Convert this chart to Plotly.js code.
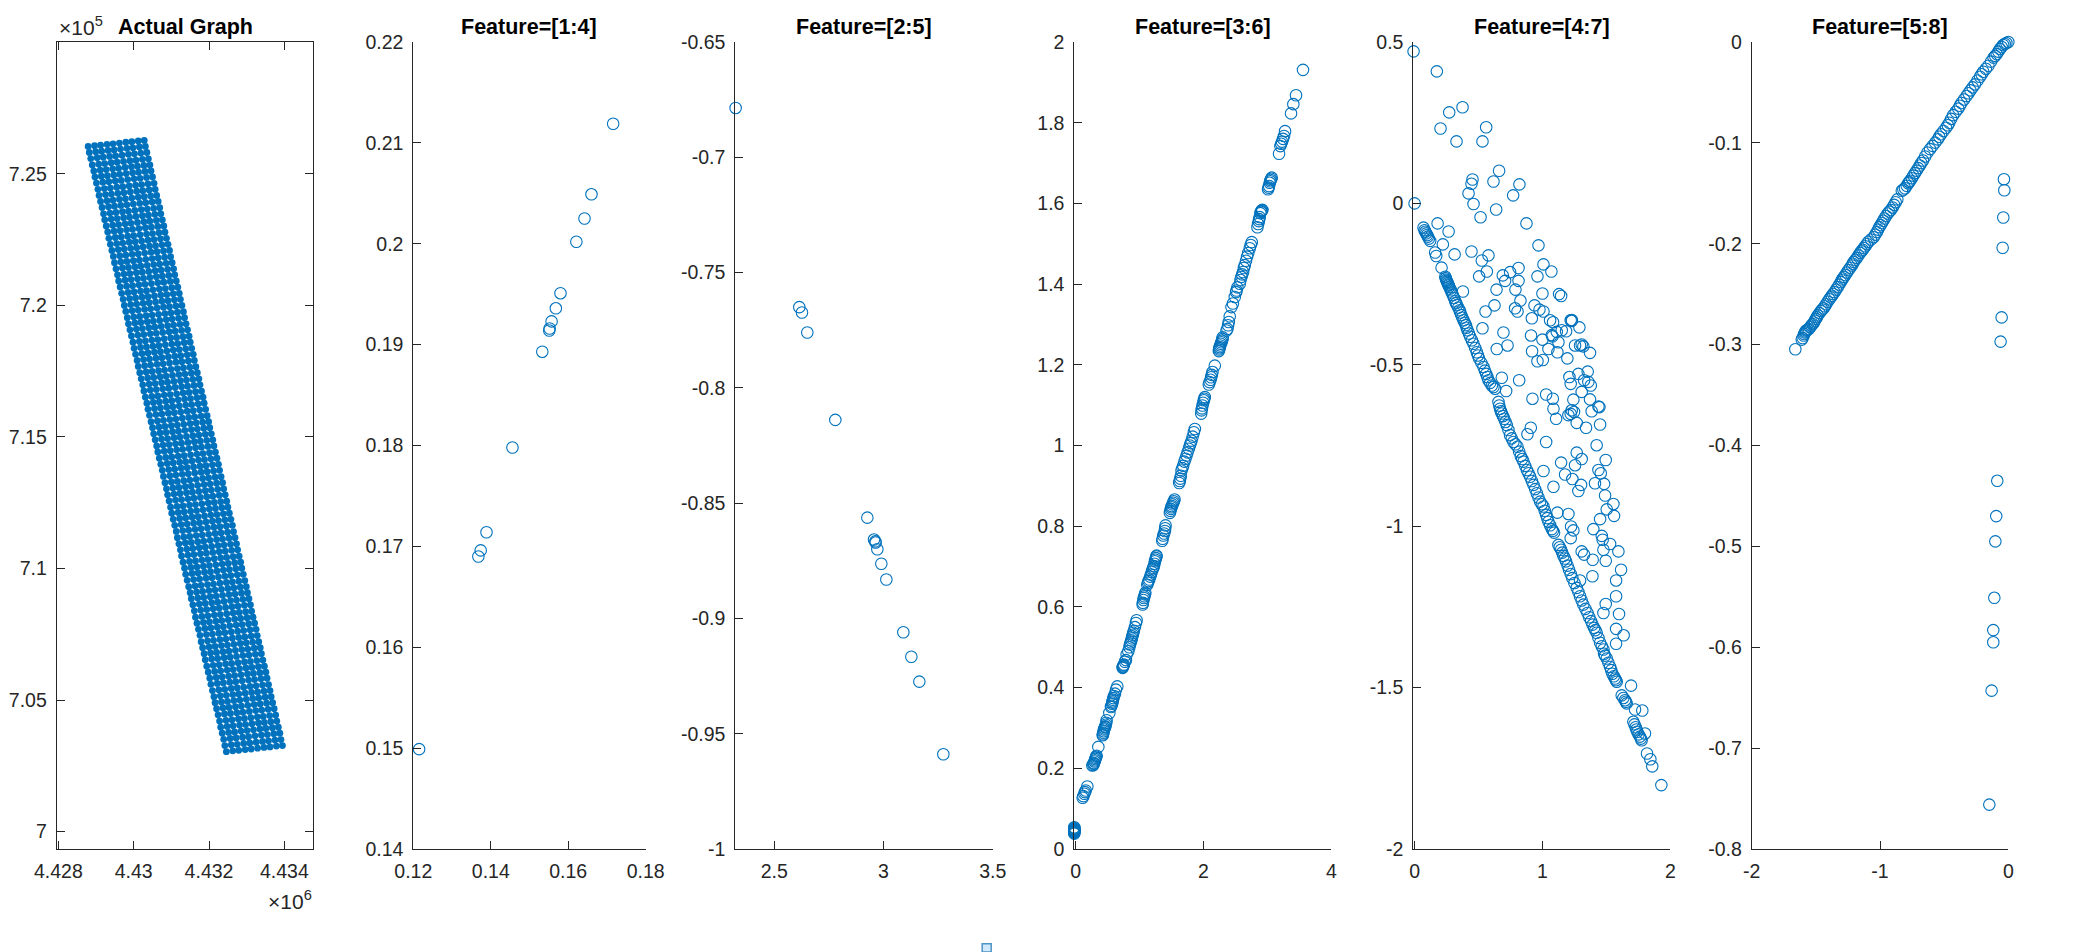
<!DOCTYPE html>
<html>
<head>
<meta charset="utf-8">
<script src="https://cdn.plot.ly/plotly-3.0.1.min.js"></script>
<style>body { margin: 0; background: #fff; }</style>
</head>
<body>
<div id="chart" style="width:2094px;height:952px"></div>
<script>
// Actual Graph: regular lattice, read as one row position per row (km) plus one offset per column
const rowX = [4428.79,4428.82,4428.86,4428.90,4428.94,4428.97,4429.01,4429.05,4429.08,4429.12,
  4429.16,4429.20,4429.23,4429.27,4429.31,4429.34,4429.38,4429.42,4429.46,4429.49,
  4429.53,4429.57,4429.60,4429.64,4429.68,4429.72,4429.75,4429.79,4429.83,4429.86,
  4429.90,4429.94,4429.98,4430.01,4430.05,4430.09,4430.12,4430.16,4430.20,4430.24,
  4430.27,4430.31,4430.35,4430.38,4430.42,4430.46,4430.50,4430.53,4430.57,4430.61,
  4430.64,4430.68,4430.72,4430.76,4430.79,4430.83,4430.87,4430.90,4430.94,4430.98,
  4431.01,4431.05,4431.09,4431.13,4431.16,4431.20,4431.24,4431.27,4431.31,4431.35,
  4431.38,4431.42,4431.46,4431.50,4431.53,4431.57,4431.61,4431.64,4431.68,4431.72,
  4431.76,4431.79,4431.83,4431.87,4431.90,4431.94,4431.98,4432.02,4432.05,4432.09,
  4432.13,4432.16,4432.20,4432.24,4432.28,4432.31,4432.35,4432.39,4432.42,4432.46];
const rowY = [726.04,725.81,725.58,725.34,725.11,724.88,724.65,724.41,724.18,723.95,
  723.72,723.48,723.25,723.02,722.79,722.55,722.32,722.09,721.86,721.62,
  721.39,721.16,720.93,720.70,720.46,720.23,720.00,719.77,719.53,719.30,
  719.07,718.84,718.60,718.37,718.14,717.91,717.68,717.44,717.21,716.98,
  716.75,716.51,716.28,716.05,715.82,715.58,715.35,715.12,714.89,714.66,
  714.43,714.19,713.96,713.73,713.50,713.26,713.03,712.80,712.57,712.33,
  712.10,711.87,711.64,711.41,711.17,710.94,710.71,710.48,710.24,710.01,
  709.78,709.55,709.31,709.08,708.85,708.62,708.39,708.15,707.92,707.69,
  707.46,707.22,706.99,706.76,706.53,706.29,706.06,705.83,705.60,705.36,
  705.13,704.90,704.67,704.44,704.20,703.97,703.74,703.51,703.27,703.04];
const colDx = [0,0.17,0.33,0.50,0.66,0.83,1.00,1.16,1.33,1.49];
const colDy = [0,0.03,0.05,0.08,0.10,0.13,0.16,0.18,0.21,0.23];

const f14x = [0.1215,0.1368,0.1374,0.1389,0.1456,0.1533,0.1551,0.1552,0.1557,0.1568,0.1580,0.1621,0.1642,0.1660,0.1716];
const f14y = [0.1499,0.1690,0.1696,0.1714,0.1798,0.1893,0.1914,0.1916,0.1923,0.1936,0.1951,0.2002,0.2025,0.2049,0.2119];

const f25x = [2.3229,2.6145,2.6267,2.6511,2.7794,2.926,2.9565,2.9626,2.9641,2.9718,2.990,3.013,3.0908,3.1275,3.1641,3.274];
const f25y = [-0.6786,-0.7650,-0.7673,-0.7760,-0.8139,-0.8563,-0.8658,-0.8666,-0.8671,-0.8700,-0.8763,-0.8831,-0.9060,-0.9166,-0.9274,-0.9589];

const f36x = [-0.022,-0.022,-0.022,-0.022,-0.022,-0.022,-0.022,-0.022,-0.022,-0.022,-0.022,-0.022,
  0.109,0.12,0.135,0.145,0.156,0.182,
  0.26,0.276,0.282,0.286,0.295,0.302,0.308,0.313,0.32,0.328,0.354,
  0.422,0.427,0.432,0.438,0.443,0.45,0.458,0.464,0.47,0.478,0.484,0.526,
  0.552,0.558,0.568,0.572,0.578,0.584,0.589,0.6,0.615,0.63,0.651,
  0.734,0.738,0.742,0.748,0.755,0.77,0.786,0.797,0.823,0.84,0.849,0.86,0.87,0.878,0.885,0.893,0.901,0.91,0.927,0.943,0.953,
  1.047,1.052,1.06,1.068,1.074,1.083,1.09,1.12,1.13,1.14,1.151,1.165,1.177,1.19,1.203,1.213,1.224,1.232,1.24,1.248,1.255,1.262,1.266,
  1.354,1.36,1.37,1.383,1.396,1.4,1.406,
  1.474,1.482,1.49,1.498,1.505,1.515,1.526,1.535,1.547,
  1.62,1.628,1.636,1.645,1.656,1.67,1.682,1.7,1.717,1.734,1.75,1.77,1.786,1.8,1.813,1.83,1.849,1.865,
  1.964,1.969,1.975,1.984,1.995,2.005,2.012,2.021,
  2.083,2.095,2.11,2.12,2.13,2.141,2.177,
  2.24,2.245,2.25,2.255,2.262,2.27,2.281,2.29,2.297,2.3,
  2.36,2.375,2.385,2.396,2.41,2.438,2.46,2.49,2.51,2.516,2.53,
  2.568,2.58,2.594,2.605,2.62,2.632,2.646,2.665,2.682,2.7,2.724,2.74,2.755,
  2.844,2.855,2.865,2.872,2.88,2.89,2.9,2.906,2.915,2.922,
  3.01,3.018,3.026,3.036,3.045,3.052,3.06,3.068,
  3.182,3.203,3.215,3.229,3.245,3.26,3.276,3.37,3.406,3.448,3.557];
const f36y = [0.038,0.040,0.042,0.043,0.044,0.045,0.046,0.047,0.048,0.050,0.052,0.054,
  0.127,0.131,0.137,0.141,0.145,0.155,
  0.207,0.208,0.211,0.213,0.217,0.22,0.223,0.226,0.229,0.231,0.253,
  0.282,0.284,0.288,0.292,0.296,0.299,0.302,0.304,0.308,0.313,0.319,0.337,
  0.352,0.355,0.36,0.363,0.366,0.37,0.374,0.379,0.385,0.395,0.403,
  0.449,0.451,0.453,0.455,0.457,0.464,0.468,0.482,0.49,0.50,0.507,0.512,0.517,0.522,0.527,0.531,0.536,0.541,0.55,0.56,0.567,
  0.606,0.61,0.617,0.622,0.626,0.631,0.635,0.655,0.66,0.664,0.668,0.675,0.68,0.687,0.693,0.697,0.701,0.707,0.713,0.717,0.721,0.725,0.727,
  0.764,0.769,0.777,0.782,0.788,0.795,0.802,
  0.833,0.838,0.843,0.847,0.85,0.854,0.858,0.862,0.866,
  0.907,0.912,0.918,0.925,0.938,0.944,0.95,0.96,0.967,0.975,0.983,0.992,1.0,1.006,1.012,1.022,1.033,1.041,
  1.079,1.087,1.092,1.099,1.106,1.112,1.116,1.12,
  1.151,1.157,1.163,1.169,1.175,1.182,1.198,
  1.234,1.238,1.241,1.244,1.248,1.252,1.256,1.26,1.264,1.268,
  1.285,1.289,1.298,1.306,1.32,1.343,1.352,1.368,1.38,1.384,1.392,
  1.401,1.41,1.418,1.424,1.43,1.44,1.447,1.458,1.468,1.477,1.489,1.497,1.504,
  1.541,1.549,1.556,1.561,1.566,1.576,1.579,1.581,1.583,1.584,
  1.635,1.639,1.643,1.651,1.655,1.658,1.661,1.664,
  1.723,1.742,1.748,1.753,1.76,1.767,1.779,1.823,1.846,1.868,1.931];

// 4:7 scattered points above the edge
const f47x = [-0.008,0,0.174,0.271,0.375,0.203,0.56,0.328,0.531,0.661,0.453,0.445,0.617,0.82,0.422,0.771,0.461,0.638,0.516,0.875,0.18,0.266,
  0.969,0.221,0.445,0.578,0.313,0.169,0.526,1.008,0.813,1.07,0.565,0.747,0.69,0.505,0.961,0.708,0.813,0.211,0.641,0.789,0.378,1.0,1.13,1.146,
  0.828,0.625,0.938,0.555,0.786,0.805,0.977,1.008,0.917,1.06,1.083,1.221,1.23,1.229,1.289,0.531,0.695,1.073,1.112,1.151,1.185,0.911,
  1.0,1.078,1.125,0.643,0.727,1.047,0.919,1.117,1.255,1.307,1.32,1.294,1.372,0.961,1.003,1.195,
  1.211,1.354,1.281,1.221,1.326,1.359,1.378,0.682,0.818,1.307,0.716,1.029,1.081,0.922,1.242,1.372,1.438,1.446,1.086,1.229,1.247,1.385,1.203,1.221,
  1.107,1.268,1.451,1.341,0.909,0.883,1.029,1.424,1.268,1.307,1.495,1.146,1.255,1.438,1.008,1.456,1.177,1.234,1.411,1.482,1.302,1.086,1.281,
  1.49,1.555,1.503,1.56,1.203,1.117,1.451,1.398,1.224,1.242,1.221,1.464,1.471,1.529,1.477,1.594,1.307,1.326,1.495,1.393,1.615,1.391,1.576,1.294,
  1.576,1.495,1.477,1.599,1.576,1.635,1.576,1.693,1.724,1.781,1.802,1.818,1.844,1.859,1.93];
const f47y = [0.471,0,0.409,0.282,0.298,0.232,0.236,0.192,0.192,0.101,0.074,0.061,0.068,0.059,0.031,0.025,-0.002,-0.019,-0.043,-0.062,-0.062,-0.087,
  -0.13,-0.127,-0.149,-0.161,-0.158,-0.163,-0.177,-0.189,-0.2,-0.211,-0.211,-0.213,-0.223,-0.226,-0.226,-0.24,-0.24,-0.199,-0.267,-0.267,-0.273,-0.279,-0.281,-0.287,
  -0.301,-0.316,-0.316,-0.335,-0.325,-0.335,-0.329,-0.335,-0.356,-0.362,-0.368,-0.362,-0.364,-0.361,-0.384,-0.387,-0.4,-0.408,-0.398,-0.393,-0.396,-0.409,
  -0.422,-0.412,-0.43,-0.451,-0.44,-0.451,-0.458,-0.461,-0.44,-0.437,-0.443,-0.44,-0.463,-0.489,-0.485,-0.48,
  -0.538,-0.521,-0.528,-0.559,-0.548,-0.553,-0.564,-0.54,-0.548,-0.584,-0.581,-0.592,-0.605,-0.605,-0.608,-0.607,-0.629,-0.631,-0.636,-0.641,-0.646,-0.644,-0.656,-0.652,
  -0.667,-0.68,-0.685,-0.695,-0.695,-0.715,-0.739,-0.749,-0.772,-0.792,-0.795,-0.803,-0.811,-0.826,-0.829,-0.836,-0.84,-0.854,-0.867,-0.869,-0.872,-0.878,-0.891,
  -0.905,-0.931,-0.948,-0.968,-0.962,-0.958,-0.978,-1.009,-1.001,-1.013,-1.037,-1.03,-1.042,-1.055,-1.073,-1.078,-1.078,-1.088,-1.107,-1.104,-1.135,-1.155,-1.168,-1.168,
  -1.217,-1.241,-1.269,-1.272,-1.318,-1.338,-1.364,-1.494,-1.568,-1.571,-1.642,-1.704,-1.722,-1.744,-1.802];
// 4:7 points along the lower edge
const f47edgeX = [0.07,0.078,0.084,0.091,0.098,0.104,0.112,0.122,0.161,0.24,0.244,0.247,0.251,0.255,0.259,0.263,0.267,0.271,0.278,0.284,0.291,0.299,0.308,0.318,0.325,0.331,0.342,0.352,0.358,0.365,0.374,0.383,0.392,0.401,0.407,0.414,0.425,0.435,0.448,
  0.461,0.474,0.487,0.496,0.505,0.522,0.539,0.55,0.56,0.569,0.578,0.591,0.604,0.617,0.63,0.656,0.662,0.669,0.675,0.682,0.692,0.701,0.711,0.721,0.734,0.747,0.76,0.773,0.789,0.805,0.818,0.831,0.842,0.852,0.865,0.878,0.891,0.904,0.917,0.93,0.943,0.956,0.969,0.982,0.995,1.008,1.018,1.029,1.038,1.047,1.06,1.073,1.082,1.091,
  1.125,1.135,1.146,1.155,1.164,1.175,1.185,1.197,1.208,1.221,1.234,1.25,1.268,1.281,1.294,1.307,1.32,1.336,1.352,1.366,1.38,1.392,1.404,1.414,1.424,1.438,1.451,1.464,1.477,1.482,1.49,1.503,1.516,1.529,1.538,1.547,1.558,1.568,1.575,1.581,1.62,1.633,1.646,1.653,1.659,1.711,1.72,1.729,1.735,1.742,1.752,1.763,1.77,1.776];
const f47edgeY = [-0.075,-0.083,-0.088,-0.093,-0.098,-0.103,-0.109,-0.116,-0.152,-0.227,-0.232,-0.236,-0.24,-0.243,-0.247,-0.251,-0.254,-0.258,-0.264,-0.269,-0.276,-0.284,-0.293,-0.303,-0.309,-0.315,-0.323,-0.331,-0.338,-0.346,-0.354,-0.362,-0.37,-0.377,-0.385,-0.393,-0.403,-0.413,-0.424,
  -0.435,-0.448,-0.461,-0.471,-0.481,-0.494,-0.507,-0.518,-0.528,-0.538,-0.548,-0.556,-0.564,-0.569,-0.574,-0.615,-0.626,-0.636,-0.644,-0.651,-0.659,-0.667,-0.677,-0.687,-0.702,-0.718,-0.728,-0.739,-0.746,-0.754,-0.769,-0.783,-0.792,-0.8,-0.813,-0.826,-0.836,-0.847,-0.86,-0.872,-0.885,-0.898,-0.911,-0.924,-0.932,-0.939,-0.952,-0.965,-0.975,-0.986,-0.997,-1.009,-1.014,-1.02,
  -1.058,-1.065,-1.073,-1.082,-1.092,-1.1,-1.109,-1.122,-1.135,-1.148,-1.161,-1.176,-1.191,-1.204,-1.217,-1.23,-1.243,-1.256,-1.269,-1.282,-1.294,-1.305,-1.315,-1.322,-1.33,-1.346,-1.361,-1.372,-1.382,-1.395,-1.401,-1.41,-1.423,-1.436,-1.446,-1.457,-1.465,-1.472,-1.477,-1.482,-1.524,-1.532,-1.539,-1.544,-1.549,-1.606,-1.614,-1.623,-1.63,-1.637,-1.645,-1.652,-1.658,-1.663];

const f58x = [-1.66,-1.61,-1.603,-1.595,-1.59,-1.585,-1.58,-1.575,-1.565,-1.555,-1.545,-1.535,-1.525,-1.515,-1.508,-1.5,-1.492,-1.485,-1.472,-1.46,-1.45,-1.44,-1.43,-1.42,-1.408,-1.395,-1.385,-1.375,-1.365,-1.355,-1.342,-1.33,-1.318,-1.305,-1.298,-1.29,-1.28,-1.27,-1.258,-1.245,-1.232,-1.22,-1.212,-1.205,-1.192,-1.18,-1.168,-1.155,-1.145,-1.135,-1.125,-1.115,-1.102,-1.09,-1.07,-1.05,-1.037,-1.025,-1.015,-1.005,-0.995,-0.985,-0.975,-0.965,-0.952,-0.94,-0.928,-0.915,-0.902,-0.89,-0.878,-0.865,-0.83,-0.818,-0.805,-0.792,-0.78,-0.772,-0.765,-0.752,-0.74,-0.728,-0.715,-0.702,-0.69,-0.678,-0.665,-0.648,-0.63,-0.61,-0.59,-0.57,-0.55,-0.538,-0.525,-0.505,-0.485,-0.472,-0.46,-0.445,-0.43,-0.41,-0.39,-0.378,-0.365,-0.345,-0.325,-0.31,-0.295,-0.278,-0.26,-0.24,-0.22,-0.208,-0.195,-0.175,-0.155,-0.135,-0.115,-0.102,-0.09,-0.078,-0.065,-0.052,-0.04,-0.028,-0.015,0,
  -0.034,-0.031,-0.039,-0.044,-0.052,-0.06,-0.086,-0.094,-0.101,-0.109,-0.117,-0.117,-0.13,-0.148];
const f58y = [-0.3046,-0.295,-0.2935,-0.291,-0.2895,-0.288,-0.287,-0.286,-0.2852,-0.2845,-0.2828,-0.281,-0.2795,-0.278,-0.2762,-0.2745,-0.2728,-0.271,-0.2688,-0.2665,-0.2652,-0.264,-0.262,-0.26,-0.2575,-0.255,-0.2532,-0.2515,-0.2498,-0.248,-0.2455,-0.243,-0.2405,-0.238,-0.2362,-0.2345,-0.2328,-0.231,-0.2285,-0.226,-0.2238,-0.2215,-0.2198,-0.218,-0.216,-0.214,-0.2115,-0.209,-0.2075,-0.206,-0.2042,-0.2025,-0.2002,-0.198,-0.1958,-0.1935,-0.191,-0.1885,-0.186,-0.1835,-0.1815,-0.1795,-0.1772,-0.175,-0.1725,-0.17,-0.1682,-0.1665,-0.164,-0.1615,-0.1588,-0.156,-0.1475,-0.1462,-0.145,-0.1425,-0.14,-0.1388,-0.1375,-0.135,-0.1325,-0.13,-0.1275,-0.125,-0.1225,-0.12,-0.1175,-0.1135,-0.1095,-0.1062,-0.103,-0.0998,-0.0965,-0.094,-0.0915,-0.0882,-0.085,-0.0825,-0.08,-0.0762,-0.0725,-0.0692,-0.066,-0.0632,-0.0605,-0.057,-0.0535,-0.0508,-0.048,-0.045,-0.042,-0.0382,-0.0345,-0.032,-0.0295,-0.0265,-0.0235,-0.0195,-0.0155,-0.0138,-0.012,-0.0095,-0.007,-0.005,-0.003,-0.002,-0.001,0,
  -0.136,-0.147,-0.174,-0.204,-0.273,-0.297,-0.435,-0.47,-0.495,-0.551,-0.583,-0.595,-0.643,-0.756];

const titles = ['Actual Graph','Feature=[1:4]','Feature=[2:5]','Feature=[3:6]','Feature=[4:7]','Feature=[5:8]'];
const titleCentres = [185,529,864.3,1203,1542,1880];
const xTickVals = [[4428,4430,4432,4434],[0.12,0.14,0.16,0.18],[2.5,3,3.5],[0,2,4],[0,1,2],[-2,-1,0]];
const xTickText = [['4.428','4.43','4.432','4.434'],['0.12','0.14','0.16','0.18'],['2.5','3','3.5'],['0','2','4'],['0','1','2'],['-2','-1','0']];
const yTickVals = [[700,705,710,715,720,725],[0.14,0.15,0.16,0.17,0.18,0.19,0.2,0.21,0.22],
  [-1,-0.95,-0.9,-0.85,-0.8,-0.75,-0.7,-0.65],[0,0.2,0.4,0.6,0.8,1,1.2,1.4,1.6,1.8,2],
  [-2,-1.5,-1,-0.5,0,0.5],[-0.8,-0.7,-0.6,-0.5,-0.4,-0.3,-0.2,-0.1,0]];
const yTickText = [['7','7.05','7.1','7.15','7.2','7.25'],['0.14','0.15','0.16','0.17','0.18','0.19','0.2','0.21','0.22'],
  ['-1','-0.95','-0.9','-0.85','-0.8','-0.75','-0.7','-0.65'],['0','0.2','0.4','0.6','0.8','1','1.2','1.4','1.6','1.8','2'],
  ['-2','-1.5','-1','-0.5','0','0.5'],['-0.8','-0.7','-0.6','-0.5','-0.4','-0.3','-0.2','-0.1','0']];
const xRanges = [[4427.955,4434.769],[0.12,0.18],[2.3214,3.5],[-0.022,4],[-0.01,2],[-2,0]];
const yRanges = [[699.34,730.01],[0.14,0.22],[-1,-0.65],[0,2],[-2,0.5],[-0.8,0]];
const panelLeft = [56.7,413.3,735.3,1074.3,1413.3,1751.7];
const panelRight = [313.3,645.7,992.7,1331.3,1670.3,2008.3];

const W = 2094, H = 952, BLUE = '#0072BD', INK = '#262626';
const top_px = 42, bottom_px = 849;

let gridX = [], gridY = [];
for (let r = 0; r < rowX.length; r++) {
  for (let c = 0; c < colDx.length; c++) {
    gridX.push(rowX[r] + colDx[c]);
    gridY.push(rowY[r] + colDy[c]);
  }
}

function circles(x, y, n) {
  return { x: x, y: y, xaxis: 'x' + n, yaxis: 'y' + n, type: 'scatter', mode: 'markers', cliponaxis: false,
    marker: { symbol: 'circle-open', size: 11.5, color: BLUE, line: { width: 1.1, color: BLUE } } };
}

const traces = [
  { x: gridX, y: gridY, xaxis: 'x', yaxis: 'y', type: 'scatter', mode: 'markers', cliponaxis: false,
    marker: { symbol: 'circle', size: 6.8, color: BLUE, line: { width: 0 } } },
  circles(f14x, f14y, 2),
  circles(f25x, f25y, 3),
  circles(f36x, f36y, 4),
  circles(f47x.concat(f47edgeX), f47y.concat(f47edgeY), 5),
  circles(f58x, f58y, 6)
];

const layout = {
  width: W, height: H, showlegend: false,
  paper_bgcolor: '#fff', plot_bgcolor: '#fff',
  margin: { l: 0, r: 0, t: 0, b: 0 },
  font: { family: 'Liberation Sans, Arial, sans-serif', size: 19.5, color: INK },
  annotations: [],
  shapes: [{ type: 'rect', xref: 'paper', yref: 'paper', x0: 982.2 / W, x1: 991.2 / W, y0: 0, y1: 1 - 943.8 / H,
    fillcolor: '#cfe8fb', line: { color: '#4f94c8', width: 1.5 } }]
};

titles.forEach(function (t, i) {
  const s = i === 0 ? '' : String(i + 1);
  layout['xaxis' + s] = {
    domain: [panelLeft[i] / W, panelRight[i] / W], range: xRanges[i], anchor: 'y' + s,
    tickmode: 'array', tickvals: xTickVals[i], ticktext: xTickText[i],
    ticks: 'inside', ticklen: 8, tickwidth: 1, tickcolor: INK,
    showline: true, linecolor: INK, linewidth: 1, mirror: i === 0 ? 'ticks' : false,
    showgrid: false, zeroline: false, fixedrange: true, ticklabelstandoff: 5
  };
  layout['yaxis' + s] = {
    domain: [1 - bottom_px / H, 1 - top_px / H], range: yRanges[i], anchor: 'x' + s,
    tickmode: 'array', tickvals: yTickVals[i], ticktext: yTickText[i],
    ticks: 'inside', ticklen: 8, tickwidth: 1, tickcolor: INK,
    showline: true, linecolor: INK, linewidth: 1, mirror: i === 0 ? 'ticks' : false,
    showgrid: false, zeroline: false, fixedrange: true, ticklabelstandoff: 5
  };
  layout.annotations.push({ xref: 'paper', yref: 'paper', x: titleCentres[i] / W, y: 1 - 26.5 / H,
    xanchor: 'center', yanchor: 'middle', showarrow: false, text: '<b>' + t + '</b>',
    font: { size: 21.5, color: '#000' } });
});

layout.annotations.push({ xref: 'paper', yref: 'paper', x: 105 / W, y: 1 - 26 / H, xanchor: 'right', yanchor: 'middle',
  showarrow: false, text: '×10<sup>5</sup>', font: { size: 21, color: INK } });
layout.annotations.push({ xref: 'paper', yref: 'paper', x: 314 / W, y: 1 - 900 / H, xanchor: 'right', yanchor: 'middle',
  showarrow: false, text: '×10<sup>6</sup>', font: { size: 21, color: INK } });

Plotly.newPlot('chart', traces, layout, { displayModeBar: false, responsive: false });
</script>
</body>
</html>
